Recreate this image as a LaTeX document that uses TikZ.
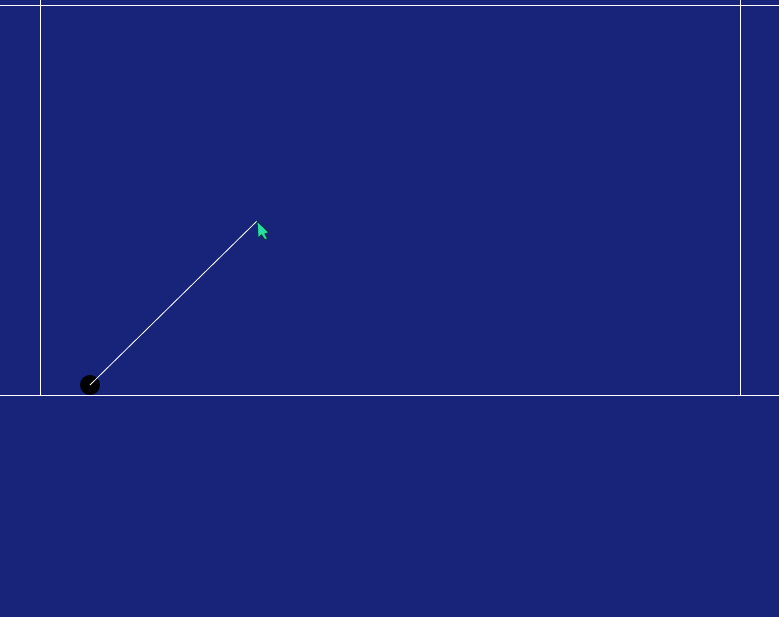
\documentclass[tikz,border=0pt]{standalone}
\usepackage{xcolor}
\definecolor{navy}{RGB}{24,36,122}
\definecolor{pointer}{RGB}{38,222,160}
\definecolor{pointeredge}{RGB}{10,50,70}
\begin{document}
\begin{tikzpicture}[x=0.02cm,y=-0.02cm]
\tikzset{wall/.style={draw=white,line width=0.02cm}}
\fill[navy] (0,0) rectangle (779,617);
\useasboundingbox (0,0) rectangle (779,617);
\draw[wall] (0,5.5) -- (779,5.5);
\draw[wall] (0,395.5) -- (779,395.5);
\draw[wall] (40.5,0) -- (40.5,395.5);
\draw[wall] (740.5,0) -- (740.5,395.5);
\node[circle,fill=black,inner sep=0pt,minimum size=0.4cm] (ball) at (90,385) {};
\coordinate (tip) at (257,221);
\draw[white,line width=0.016cm] (ball.center) -- (tip);
\draw[fill=pointer,draw=pointeredge,line width=0.02cm] (tip) -- (258,238) -- (261.5,235) -- (265,240) -- (267.5,238.5) -- (265,234) -- (269,232.5) -- cycle;
\end{tikzpicture}
\end{document}
